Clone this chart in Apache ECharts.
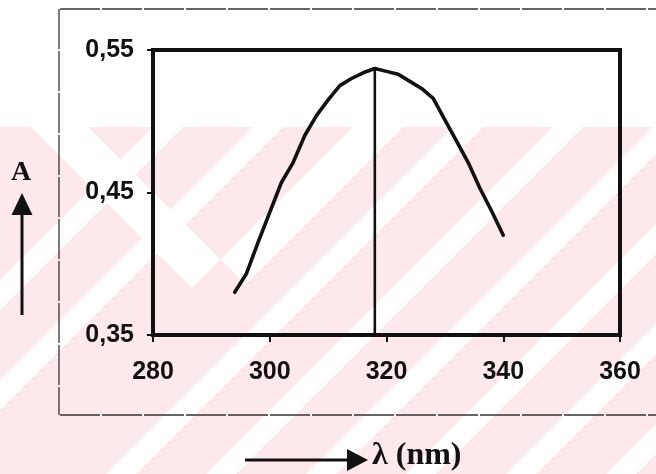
<!DOCTYPE html>
<html>
<head>
<meta charset="utf-8">
<script src="https://cdn.jsdelivr.net/npm/echarts@6/dist/echarts.min.js"></script>
<style>
  html, body { margin: 0; padding: 0; background: #ffffff; }
  #chart { width: 656px; height: 474px; }
</style>
</head>
<body>
<div id="chart"></div>
<script>
// Absorption spectrum: wavelength (nm) vs absorbance A
const wavelengths = [294, 296, 298, 300, 302, 304, 306, 308, 310, 312, 314, 316,
                     318, 320, 322, 324, 326, 328, 330, 332, 334, 336, 338, 340];
const absorbance  = [0.380, 0.393, 0.415, 0.436, 0.457, 0.471, 0.490, 0.504, 0.515, 0.525, 0.530, 0.534,
                     0.537, 0.535, 0.533, 0.528, 0.523, 0.516, 0.501, 0.486, 0.471, 0.453, 0.437, 0.420];

// Vertical marker dropped from the absorption maximum to the axis
const peakWavelength = 318;
const peakAbsorbance = 0.537;

// Axis ranges and ticks
const xTicks = [280, 300, 320, 340, 360];
const yTicks = [0.35, 0.45, 0.55];

const ink = '#111111';
const labelFont = { fontFamily: 'Liberation Sans, Arial, sans-serif', fontWeight: 'bold', fontSize: 25, color: ink };
const serif = 'Liberation Serif, Times New Roman, serif';

// Light background pattern: pink field with white diagonal bands
const pinkTop = 127, pinkBottom = 474;
const slashBands = [[580, 610], [680, 710], [780, 810], [880, 910], [980, 1010], [1080, 1110], [380, 410], [280, 310]];
function slashBand(c1, c2) {
  return [[c1 - pinkTop, pinkTop], [c2 - pinkTop, pinkTop], [c2 - pinkBottom, pinkBottom], [c1 - pinkBottom, pinkBottom]];
}
// chevron formed by a "\" arm (x - y = d) and a "/" arm (x + y = c)
function chevron(d1, d2, c1, c2) {
  return [
    [d1 + pinkTop, pinkTop], [(c1 + d1) / 2, (c1 - d1) / 2], [c1 - pinkTop, pinkTop],
    [c2 - pinkTop, pinkTop], [(c2 + d2) / 2, (c2 - d2) / 2], [d2 + pinkTop, pinkTop]
  ];
}
const backdrop = [
  { type: 'rect', z: -10, silent: true, shape: { x: 0, y: pinkTop, width: 656, height: pinkBottom - pinkTop }, style: { fill: '#fde9ec' } },
  { type: 'polygon', z: -9, silent: true, shape: { points: chevron(-96, -39, 480, 530) }, style: { fill: '#ffffff' } }
].concat(slashBands.map(b => ({ type: 'polygon', z: -9, silent: true, shape: { points: slashBand(b[0], b[1]) }, style: { fill: '#ffffff' } })));

// Outer frame, axis captions and arrows
const frameStyle = { stroke: '#333333', lineWidth: 1.3, lineDash: [40, 2] };
const decorations = [
  { type: 'line', shape: { x1: 60, y1: 9, x2: 656, y2: 9 }, style: frameStyle },
  { type: 'line', shape: { x1: 59, y1: 9, x2: 59, y2: 415 }, style: frameStyle },
  { type: 'line', shape: { x1: 60, y1: 415, x2: 656, y2: 415 }, style: frameStyle },
  { type: 'text', x: 21, y: 173, style: { text: 'A', fontFamily: serif, fontWeight: 'bold', fontSize: 28, fill: ink, align: 'center', verticalAlign: 'middle' } },
  { type: 'line', shape: { x1: 22, y1: 212, x2: 22, y2: 315 }, style: { stroke: ink, lineWidth: 3 } },
  { type: 'polygon', shape: { points: [[11.5, 215], [32.5, 215], [22, 193]] }, style: { fill: ink } },
  { type: 'line', shape: { x1: 245, y1: 460, x2: 350, y2: 460 }, style: { stroke: ink, lineWidth: 3 } },
  { type: 'polygon', shape: { points: [[347, 449], [347, 471], [368, 460]] }, style: { fill: ink } },
  { type: 'text', x: 372, y: 456, style: { text: 'λ (nm)', fontFamily: serif, fontWeight: 'bold', fontSize: 32, fill: ink, align: 'left', verticalAlign: 'middle' } }
];

const chart = echarts.init(document.getElementById('chart'), null, { renderer: 'canvas' });
chart.setOption({
  animation: false,
  backgroundColor: '#ffffff',
  grid: { left: 153, right: 36, top: 50, bottom: 139, show: true, borderColor: ink, borderWidth: 4, backgroundColor: 'transparent' },
  xAxis: {
    type: 'value', min: xTicks[0], max: xTicks[xTicks.length - 1], interval: xTicks[1] - xTicks[0],
    axisLine: { show: true, lineStyle: { color: ink, width: 4 } },
    axisTick: { show: true, inside: false, length: 7, lineStyle: { color: ink, width: 2 } },
    axisLabel: Object.assign({ margin: 25 }, labelFont),
    splitLine: { show: false }
  },
  yAxis: {
    type: 'value', min: yTicks[0], max: yTicks[yTicks.length - 1], interval: yTicks[1] - yTicks[0],
    axisLine: { show: true, lineStyle: { color: ink, width: 4 } },
    axisTick: { show: true, inside: false, length: 6, lineStyle: { color: ink, width: 2 } },
    axisLabel: Object.assign({ margin: 19, formatter: v => v.toFixed(2).replace('.', ',') }, labelFont),
    splitLine: { show: false }
  },
  graphic: backdrop.concat(decorations),
  series: [
    {
      type: 'line', name: 'A',
      data: wavelengths.map((w, i) => [w, absorbance[i]]),
      showSymbol: false, symbol: 'none',
      lineStyle: { color: ink, width: 3.6, join: 'round', cap: 'round' }
    },
    {
      type: 'line', name: 'λmax',
      data: [[peakWavelength, yTicks[0]], [peakWavelength, peakAbsorbance]],
      showSymbol: false, symbol: 'none',
      lineStyle: { color: ink, width: 2.6 }
    }
  ]
});
</script>
</body>
</html>
